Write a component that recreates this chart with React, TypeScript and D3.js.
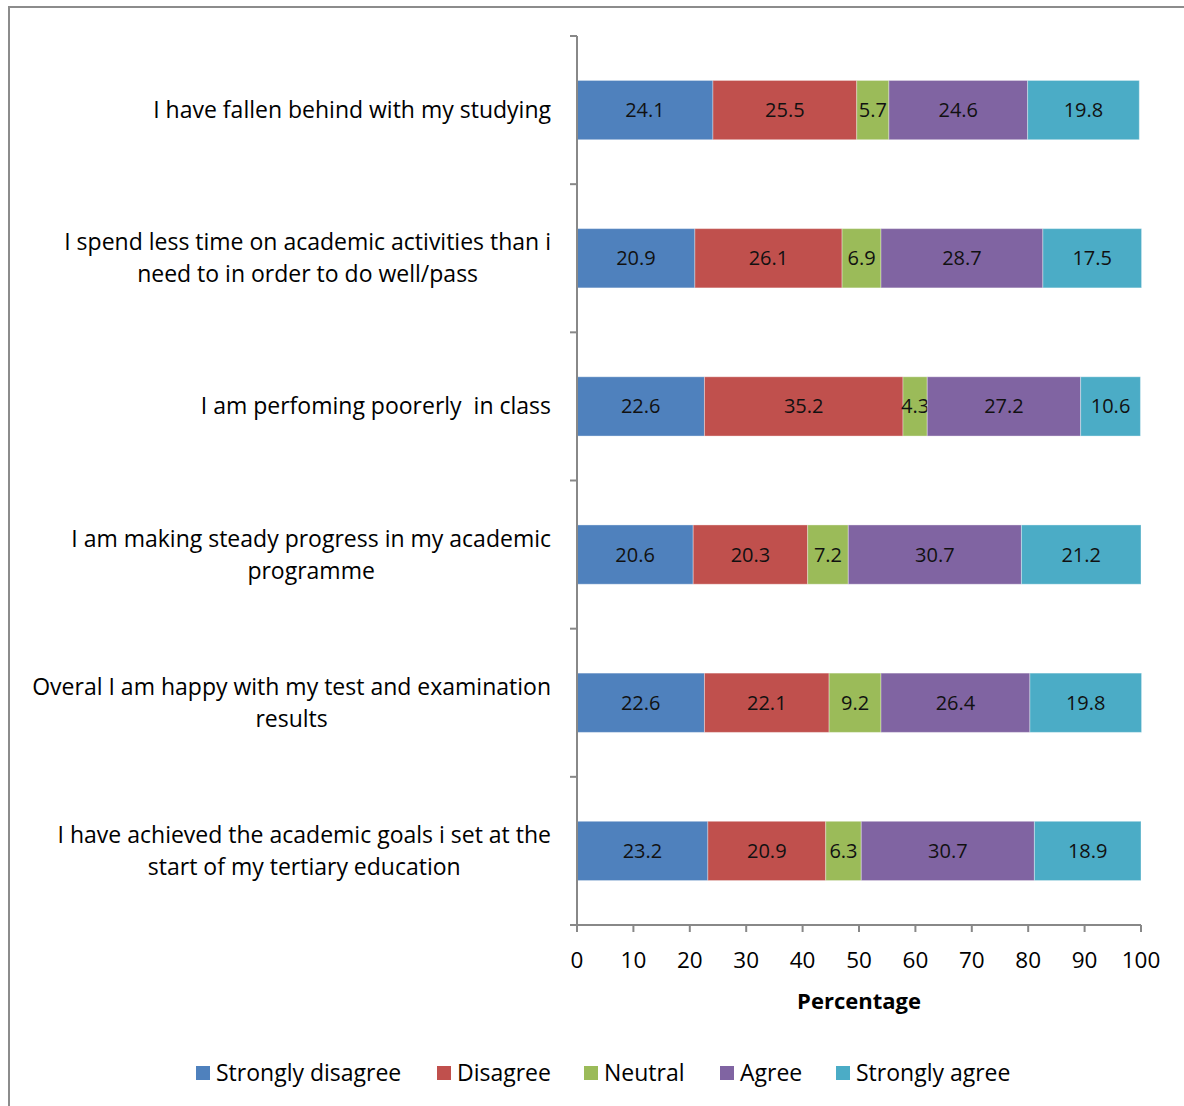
import React from "react";
import * as d3 from "d3";

const categories: string[][] = [
  ["I have fallen behind with my studying"],
  ["I spend less time on academic activities than i", "need to in order to do well/pass"],
  ["I am perfoming poorerly  in class"],
  ["I am making steady progress in my academic", "programme"],
  ["Overal I am happy with my test and examination", "results"],
  ["I have achieved the academic goals i set at the", "start of my tertiary education"],
];

const seriesNames = ["Strongly disagree", "Disagree", "Neutral", "Agree", "Strongly agree"];
const seriesColors = ["#4F81BD", "#C0504D", "#9BBB59", "#8064A2", "#4BACC6"];

const stronglyDisagree = [24.1, 20.9, 22.6, 20.6, 22.6, 23.2];
const disagree = [25.5, 26.1, 35.2, 20.3, 22.1, 20.9];
const neutral = [5.7, 6.9, 4.3, 7.2, 9.2, 6.3];
const agree = [24.6, 28.7, 27.2, 30.7, 26.4, 30.7];
const stronglyAgree = [19.8, 17.5, 10.6, 21.2, 19.8, 18.9];

const xTicks = [0, 10, 20, 30, 40, 50, 60, 70, 80, 90, 100];

const FONT = "'Open Sans', sans-serif";

function measure(text: string, size: number): number {
  const c = document.createElement("canvas").getContext("2d");
  if (!c) return text.length * size * 0.5;
  c.font = `${size}px 'Open Sans'`;
  return c.measureText(text).width;
}

export default function App() {
  const W = 1184;
  const H = 1106;
  const left = 577;
  const right = 1141;
  const top = 36;
  const bottom = 925;

  const x = d3.scaleLinear().domain([0, 100]).range([left, right]);
  const y = d3
    .scaleBand<number>()
    .domain(categories.map((_, i) => i))
    .range([top, bottom])
    .paddingInner(0.6)
    .paddingOuter(0.3);
  const band = (bottom - top) / categories.length;

  const series = [stronglyDisagree, disagree, neutral, agree, stronglyAgree];
  const rows = categories.map((_, i) => {
    const o: Record<string, number> = {};
    seriesNames.forEach((n, s) => (o[n] = series[s][i]));
    return o;
  });
  const stacked = d3.stack<Record<string, number>>().keys(seriesNames)(rows);

  const labelSize = 23;
  const labelRight = 551;
  const lineH = 32;

  const legendX = [196, 437, 584, 720, 836];

  return (
    <svg
      width={W}
      height={H}
      style={{ position: "absolute", left: 0, top: 0, background: "#fff" }}
      fontFamily={FONT}
    >
      <rect x={9} y={7} width={W} height={H} fill="#fff" stroke="#8c8c8c" strokeWidth={2} />

      {/* stacked bars */}
      {stacked.map((layer, s) => (
        <g key={seriesNames[s]}>
          {layer.map((d, i) => {
            const x0 = x(d[0]);
            const x1 = x(d[1]);
            const by = y(i)!;
            const bh = y.bandwidth();
            const v = series[s][i];
            return (
              <g key={i}>
                <rect
                  x={x0}
                  y={by}
                  width={x1 - x0}
                  height={bh}
                  fill={seriesColors[s]}
                  stroke="#ffffff"
                  strokeOpacity={0.35}
                  strokeWidth={1}
                />
                <text
                  x={(x0 + x1) / 2}
                  y={by + bh / 2}
                  dy="0.35em"
                  textAnchor="middle"
                  fontSize={20}
                  fill="#111"
                >
                  {v.toFixed(1)}
                </text>
              </g>
            );
          })}
        </g>
      ))}

      {/* y axis */}
      <line x1={left} x2={left} y1={top} y2={bottom} stroke="#888" strokeWidth={2} />
      {d3.range(categories.length + 1).map((k) => (
        <line
          key={k}
          x1={left - 7}
          x2={left}
          y1={top + k * band}
          y2={top + k * band}
          stroke="#888"
          strokeWidth={2}
        />
      ))}

      {/* x axis */}
      <line x1={left} x2={right} y1={bottom} y2={bottom} stroke="#888" strokeWidth={2} />
      {xTicks.map((t) => (
        <g key={t}>
          <line x1={x(t)} x2={x(t)} y1={bottom} y2={bottom + 7} stroke="#888" strokeWidth={2} />
          <text x={x(t)} y={968} textAnchor="middle" fontSize={22.5} fill="#000">
            {t}
          </text>
        </g>
      ))}
      <text x={(left + right) / 2} y={1009} textAnchor="middle" fontSize={22} fontWeight="bold" fill="#000">
        Percentage
      </text>

      {/* category labels */}
      {categories.map((lines, i) => {
        const cy = y(i)! + y.bandwidth() / 2;
        const maxW = Math.max(...lines.map((l) => measure(l, labelSize)));
        const cx = labelRight - maxW / 2;
        const startY = cy - ((lines.length - 1) * lineH) / 2;
        return (
          <text
            key={i}
            fontSize={labelSize}
            fill="#000"
            textAnchor={lines.length > 1 ? "middle" : "end"}
            style={{ whiteSpace: "pre" }}
          >
            {lines.map((l, j) => (
              <tspan key={j} x={lines.length > 1 ? cx : labelRight} y={startY + j * lineH} dy="0.35em">
                {l}
              </tspan>
            ))}
          </text>
        );
      })}

      {/* legend */}
      {seriesNames.map((n, s) => (
        <g key={n} transform={`translate(${legendX[s]},1066)`}>
          <rect width={14} height={14} fill={seriesColors[s]} />
          <text x={20} y={7} dy="0.35em" fontSize={23} fill="#000">
            {n}
          </text>
        </g>
      ))}
    </svg>
  );
}
